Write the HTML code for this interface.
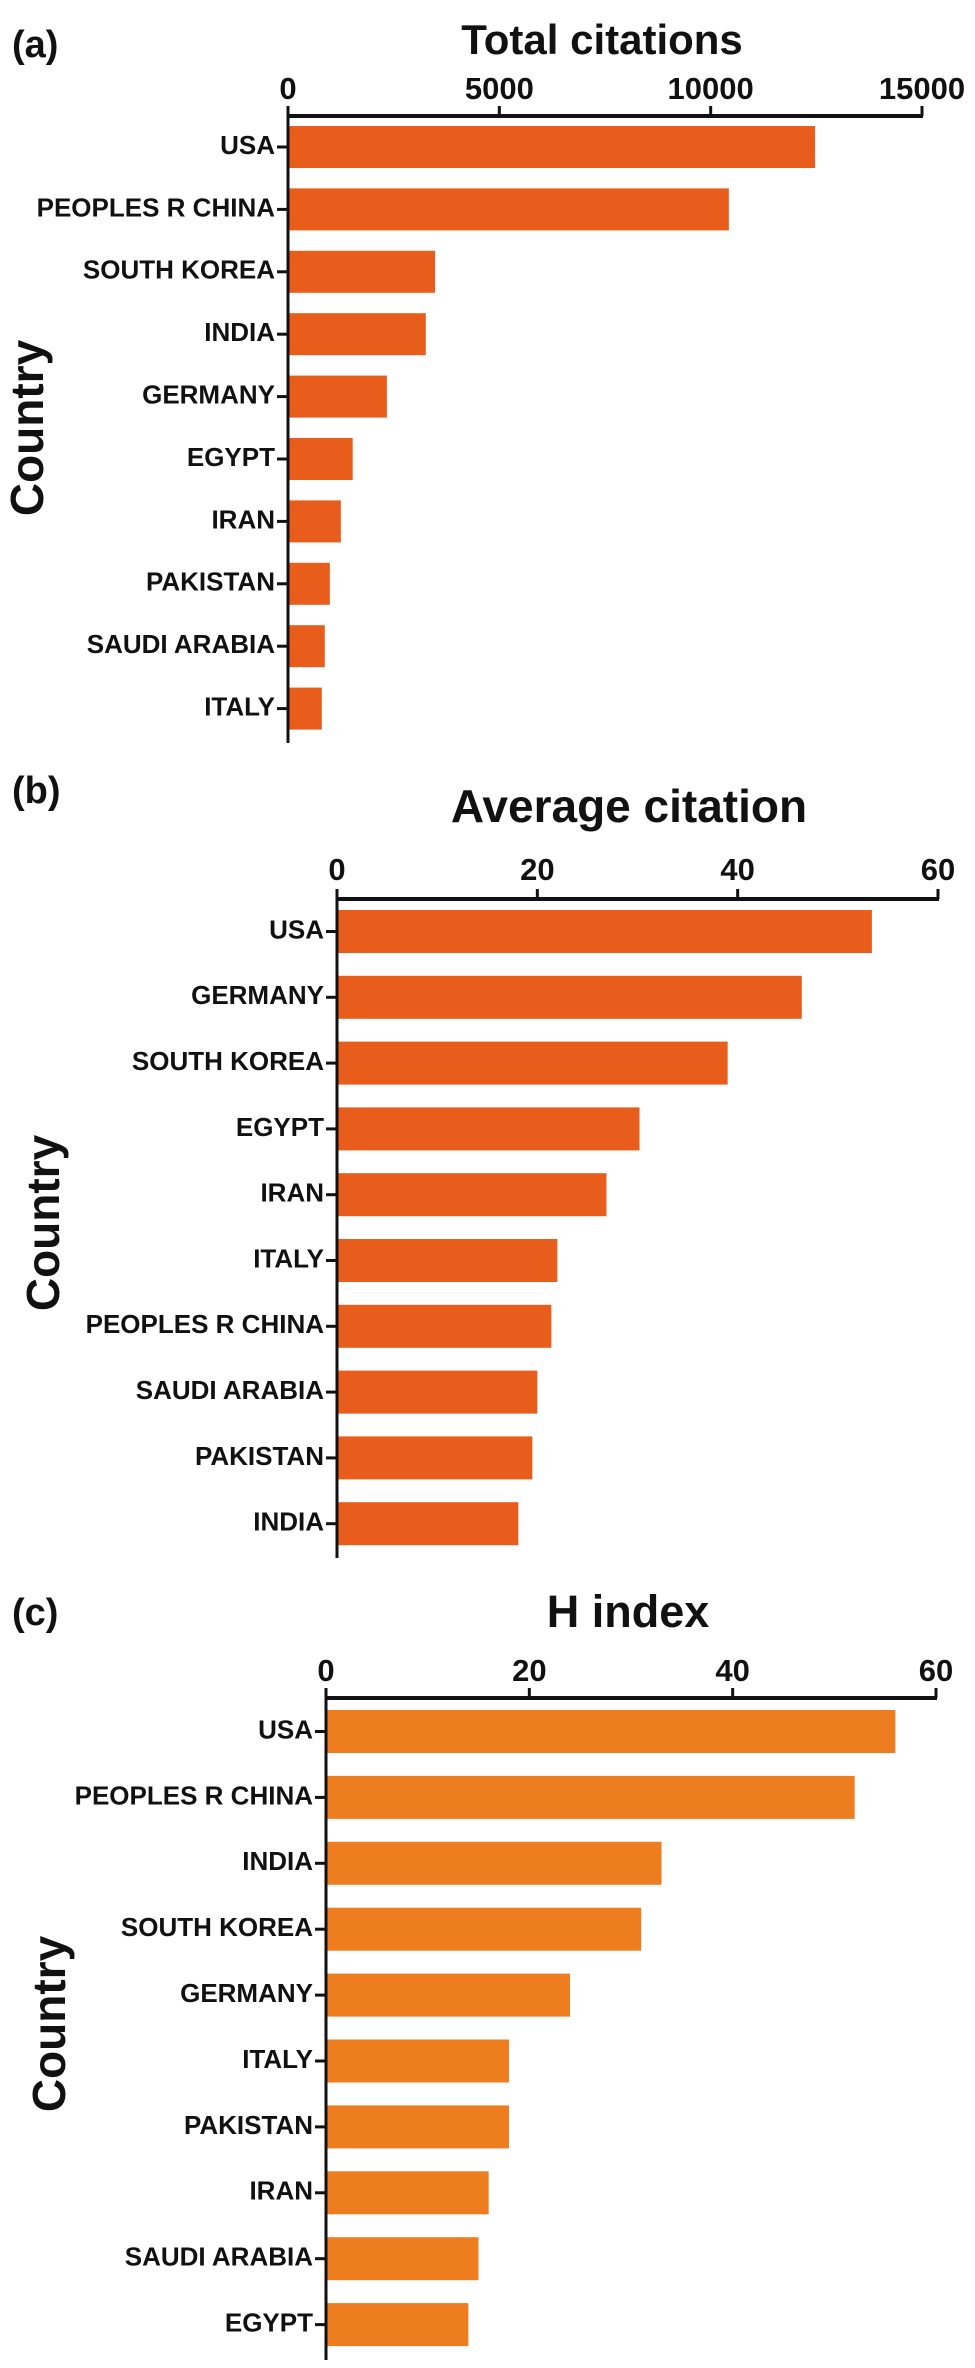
<!DOCTYPE html>
<html><head><meta charset="utf-8"><style>
html,body{margin:0;padding:0;background:#fff;}
svg{display:block;font-family:"Liberation Sans",Arial,sans-serif;font-weight:bold;}
</style></head><body>
<svg id="fig" width="975" height="2368" viewBox="0 0 975 2368"></svg>
<script>
const catsA = ["USA","PEOPLES R CHINA","SOUTH KOREA","INDIA","GERMANY","EGYPT","IRAN","PAKISTAN","SAUDI ARABIA","ITALY"];
const valsA = [12470,10430,3480,3260,2340,1530,1250,990,870,800];
const ticksA = [0,5000,10000,15000];
const catsB = ["USA","GERMANY","SOUTH KOREA","EGYPT","IRAN","ITALY","PEOPLES R CHINA","SAUDI ARABIA","PAKISTAN","INDIA"];
const valsB = [53.4,46.4,39,30.2,26.9,22,21.4,20,19.5,18.1];
const ticksB = [0,20,40,60];
const catsC = ["USA","PEOPLES R CHINA","INDIA","SOUTH KOREA","GERMANY","ITALY","PAKISTAN","IRAN","SAUDI ARABIA","EGYPT"];
const valsC = [56,52,33,31,24,18,18,16,15,14];
const ticksC = [0,20,40,60];

const NS="http://www.w3.org/2000/svg";
const svg=document.getElementById('fig');
function mk(tag,attrs,parent){const e=document.createElementNS(NS,tag);for(const k in attrs)e.setAttribute(k,attrs[k]);(parent||svg).appendChild(e);return e;}

function panel(cfg,cats,vals,ticks){
  const g=mk('g',{});
  
  
  const x=v=>cfg.x0+(v-ticks[0])/(ticks[ticks.length-1]-ticks[0])*(cfg.x1-cfg.x0);
  const y=i=>cfg.bar0+i*cfg.pitch;
  const lab=mk('text',{x:12,y:cfg.labY,'font-size':38,'dominant-baseline':'middle',fill:'#111'},g);
  lab.textContent='('+cfg.id+')';
  
  
  const t=mk('text',{x:cfg.titleX,y:cfg.titleY,'font-size':cfg.titleSize,'text-anchor':'middle','dominant-baseline':'middle',fill:'#111'},g);
  t.textContent=cfg.title;
  
  
  const yt=mk('text',{x:0,y:0,'font-size':46,'text-anchor':'middle','dominant-baseline':'middle',fill:'#111',transform:`translate(${cfg.ctryX},${cfg.ctryY}) rotate(-90)`},g);
  yt.textContent='Country';
  
  
  vals.forEach((v,i)=>{
    const r=mk('rect',{x:cfg.x0,y:y(i),width:Math.max(0,x(v)-cfg.x0),height:cfg.barH,fill:cfg.color},g);
    
    
    const cy=y(i)+cfg.barH/2;
    mk('line',{x1:cfg.x0-11,x2:cfg.x0,y1:cy,y2:cy,stroke:'#111','stroke-width':3},g);
    const tl=mk('text',{x:cfg.x0-13,y:cy,'font-size':26,'text-anchor':'end','dominant-baseline':'middle',fill:'#111'},g);
    tl.textContent=cats[i];
    
    
  });
  const ax=mk('line',{x1:cfg.x0-1,x2:x(ticks[ticks.length-1])+1,y1:cfg.axisY,y2:cfg.axisY,stroke:'#111','stroke-width':4},g);
  
  
  const ay=mk('line',{x1:cfg.x0,x2:cfg.x0,y1:cfg.axisY-2,y2:cfg.axisEnd,stroke:'#111','stroke-width':3},g);
  
  
  ticks.forEach(tv=>{
    mk('line',{x1:x(tv),x2:x(tv),y1:cfg.axisY-10,y2:cfg.axisY,stroke:'#111','stroke-width':3},g);
    const tt=mk('text',{x:x(tv),y:cfg.tickY,'font-size':31,'text-anchor':'middle','dominant-baseline':'middle',fill:'#111'},g);
    tt.textContent=String(tv);
    
    
  });
}

panel({id:'a',title:'Total citations',titleX:602,titleY:43,titleSize:42,labY:47,x0:288,x1:922,axisY:116,axisEnd:743,
  tickY:91,bar0:126,pitch:62.4,barH:42,color:'#E85C1C',ctryX:31,ctryY:428},catsA,valsA,ticksA);
panel({id:'b',title:'Average citation',titleX:629,titleY:810,titleSize:46,labY:793,x0:337,x1:938,axisY:899,axisEnd:1558,
  tickY:872,bar0:910,pitch:65.8,barH:43,color:'#E85C1C',ctryX:47,ctryY:1223},catsB,valsB,ticksB);
panel({id:'c',title:'H index',titleX:628,titleY:1615,titleSize:45,labY:1615,x0:326,x1:936,axisY:1698,axisEnd:2360,
  tickY:1673,bar0:1710,pitch:65.9,barH:43,color:'#EE7D1F',ctryX:53,ctryY:2024},catsC,valsC,ticksC);
</script>
</body></html>
